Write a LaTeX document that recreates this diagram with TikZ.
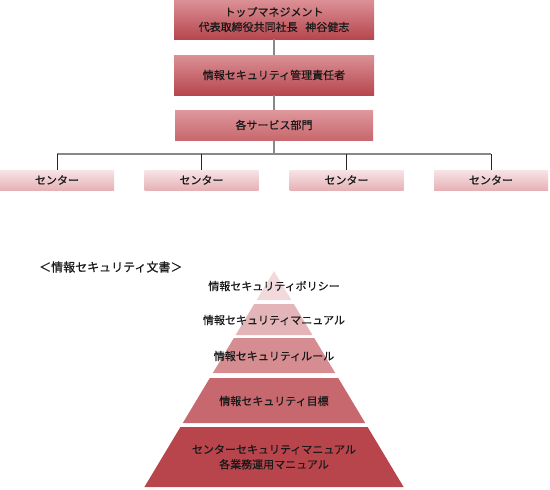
\documentclass[tikz,border=0pt]{standalone}
\usepackage{fontspec}
\usepackage{xcolor}
\usepackage{tikz}
\usetikzlibrary{positioning}
\setmainfont{Noto Sans CJK JP}[FakeBold=0.5]

\definecolor{boxtop}{RGB}{219,145,150}
\definecolor{boxbot}{RGB}{183,70,78}
\definecolor{depttop}{RGB}{222,152,156}
\definecolor{deptbot}{RGB}{200,104,110}
\definecolor{centop}{RGB}{247,228,230}
\definecolor{cenbot}{RGB}{230,178,182}
\definecolor{layA}{RGB}{242,218,220}
\definecolor{layB}{RGB}{227,181,184}
\definecolor{layC}{RGB}{213,141,146}
\definecolor{layD}{RGB}{199,103,110}
\definecolor{layE}{RGB}{184,68,76}
\definecolor{txt}{RGB}{25,25,25}
\definecolor{wire}{RGB}{136,136,136}

\begin{document}
\begin{tikzpicture}[x=1pt,y=-1pt,
  font=\fontsize{11}{15}\selectfont,
  org box/.style={rectangle,inner sep=0pt,text=txt,align=center,
    top color=boxtop,bottom color=boxbot,minimum width=200pt},
  dept box/.style={rectangle,inner sep=0pt,text=txt,
    top color=depttop,bottom color=deptbot,minimum width=198pt,minimum height=30pt},
  center box/.style={rectangle,inner sep=0pt,text=txt,
    top color=centop,bottom color=cenbot,minimum width=114pt,minimum height=20pt},
  main wire/.style={wire,line width=1.6pt},
  drop wire/.style={black!85,line width=0.9pt},
  layer label/.style={text=txt,align=center,inner sep=0pt}]

  \useasboundingbox (0,0) rectangle (550,490);

  \node[org box,minimum height=39pt] (top) at (274,19.5)
    {トップマネジメント\\代表取締役共同社長\hspace{0.7em}神谷健志};
  \node[org box,minimum height=40pt] (manager) at (274,75) {情報セキュリティ管理責任者};
  \node[dept box] (dept) at (274,125) {各サービス部門};

  \node[center box] (c1) at (57,180) {センター};
  \node[center box] (c2) at (201.5,180) {センター};
  \node[center box] (c3) at (346.5,180) {センター};
  \node[center box] (c4) at (491,180) {センター};

  \coordinate (bus) at (274,154);

  \draw[main wire] (top) -- (manager);
  \draw[main wire] (manager) -- (dept);
  \draw[main wire] (dept) -- (bus);
  \draw[main wire] (c1.north |- bus) -- (c4.north |- bus);
  \foreach \c in {c1,c2,c3,c4}
    \draw[drop wire] (\c.north |- bus) -- (\c.north);

  % pyramid
  \node[anchor=west,inner sep=0pt,text=txt,font=\fontsize{12}{14}\selectfont]
    (doc title) at (39,267) {＜情報セキュリティ文書＞};

  \foreach \ya/\yb/\col in {271/300/layA,304/335/layB,338/373/layC,378/423/layD,427/487/layE}
    \fill[\col] ({274-0.6*(\ya-271)},\ya) -- ({274+0.6*(\ya-271)},\ya)
      -- ({274+0.6*(\yb-271)},\yb) -- ({274-0.6*(\yb-271)},\yb) -- cycle;

  \node[layer label] (p1) at (274,286) {情報セキュリティポリシー};
  \node[layer label] (p2) at (274,320) {情報セキュリティマニュアル};
  \node[layer label] (p3) at (274,356) {情報セキュリティルール};
  \node[layer label] (p4) at (274,401) {情報セキュリティ目標};
  \node[layer label] (p5) at (274,457)
    {センターセキュリティマニュアル\\各業務運用マニュアル};

\end{tikzpicture}
\end{document}
